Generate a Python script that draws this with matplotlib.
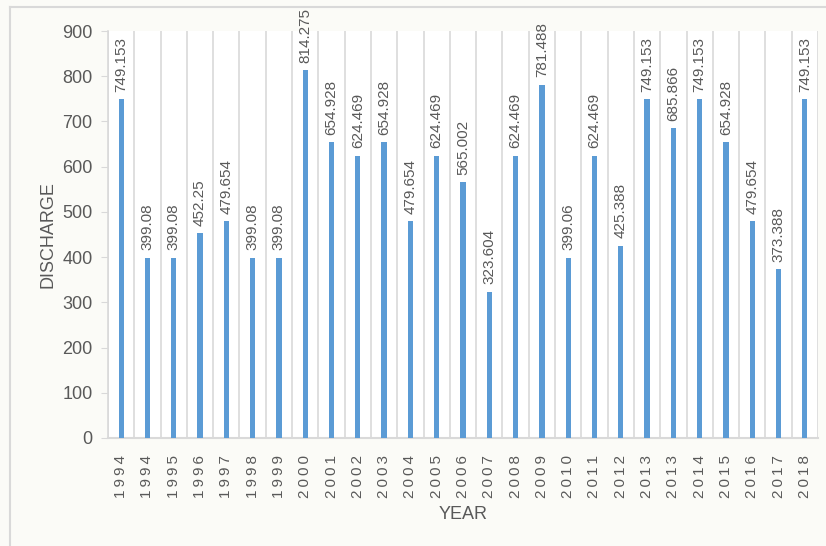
import matplotlib
matplotlib.use("Agg")
import matplotlib.pyplot as plt
from matplotlib.lines import Line2D
from matplotlib import font_manager

years = ["1994", "1994", "1995", "1996", "1997", "1998", "1999", "2000", "2001",
         "2002", "2003", "2004", "2005", "2006", "2007", "2008", "2009", "2010",
         "2011", "2012", "2013", "2013", "2014", "2015", "2016", "2017", "2018"]
discharge = [749.153, 399.08, 399.08, 452.25, 479.654, 399.08, 399.08, 814.275,
             654.928, 624.469, 654.928, 479.654, 624.469, 565.002, 323.604,
             624.469, 781.488, 399.06, 624.469, 425.388, 749.153, 685.866,
             749.153, 654.928, 479.654, 373.388, 749.153]
value_labels = ["749.153", "399.08", "399.08", "452.25", "479.654", "399.08",
                "399.08", "814.275", "654.928", "624.469", "654.928", "479.654",
                "624.469", "565.002", "323.604", "624.469", "781.488", "399.06",
                "624.469", "425.388", "749.153", "685.866", "749.153", "654.928",
                "479.654", "373.388", "749.153"]
y_ticks = [0, 100, 200, 300, 400, 500, 600, 700, 800, 900]

names = {f.name for f in font_manager.fontManager.ttflist}
fam = "Liberation Sans Narrow" if "Liberation Sans Narrow" in names else "Liberation Sans"
plt.rcParams["font.family"] = [fam, "DejaVu Sans"]

txt = "#595959"
grid = "#d9d9d9"
bg = "#fbfbf7"

fig = plt.figure(figsize=(8.26, 5.46), dpi=100, facecolor=bg)
ax = fig.add_axes([108 / 826, 1 - 438 / 546, 710 / 826, 407 / 546])
ax.set_facecolor("white")

x = list(range(len(years)))
ax.bar(x, discharge, width=0.2, color="#5b9bd5", zorder=3)

for xi, v, lab in zip(x, discharge, value_labels):
    ax.text(xi, v + 16, lab, rotation=90, ha="center", va="bottom",
            fontsize=11, color=txt, zorder=4)

ax.set_xlim(-0.5, len(years) - 0.5)
ax.set_ylim(0, 900)
ax.set_yticks(y_ticks)
ax.set_yticklabels([str(t) for t in y_ticks], fontsize=13, color=txt)

ax.set_xticks(x)
spaced = ["\u2009".join(list(y)) for y in years]
ax.set_xticklabels(spaced, rotation=90, fontsize=11, color=txt)
ax.tick_params(axis="x", length=0, pad=12)
ax.tick_params(axis="y", length=5, color=grid, pad=6)

for b in [i - 0.5 for i in range(len(years) + 1)]:
    ax.axvline(b, color=grid, lw=1.2, zorder=1)

for s in ["top", "right"]:
    ax.spines[s].set_visible(False)
ax.spines["left"].set_color(grid)
ax.spines["bottom"].set_color(grid)
ax.spines["left"].set_linewidth(1.2)
ax.spines["bottom"].set_linewidth(1.5)

ax.set_ylabel("DISCHARGE", fontsize=13, color=txt, labelpad=4)
ax.set_xlabel("YEAR", fontsize=13, color=txt, labelpad=6)

fig.add_artist(Line2D([10 / 826, 1], [1 - 7 / 546, 1 - 7 / 546],
                      transform=fig.transFigure, color=grid, lw=1.5))
fig.add_artist(Line2D([10 / 826, 10 / 826], [0, 1 - 7 / 546],
                      transform=fig.transFigure, color=grid, lw=1.5))

fig.savefig("out.png", dpi=100, facecolor=bg)
